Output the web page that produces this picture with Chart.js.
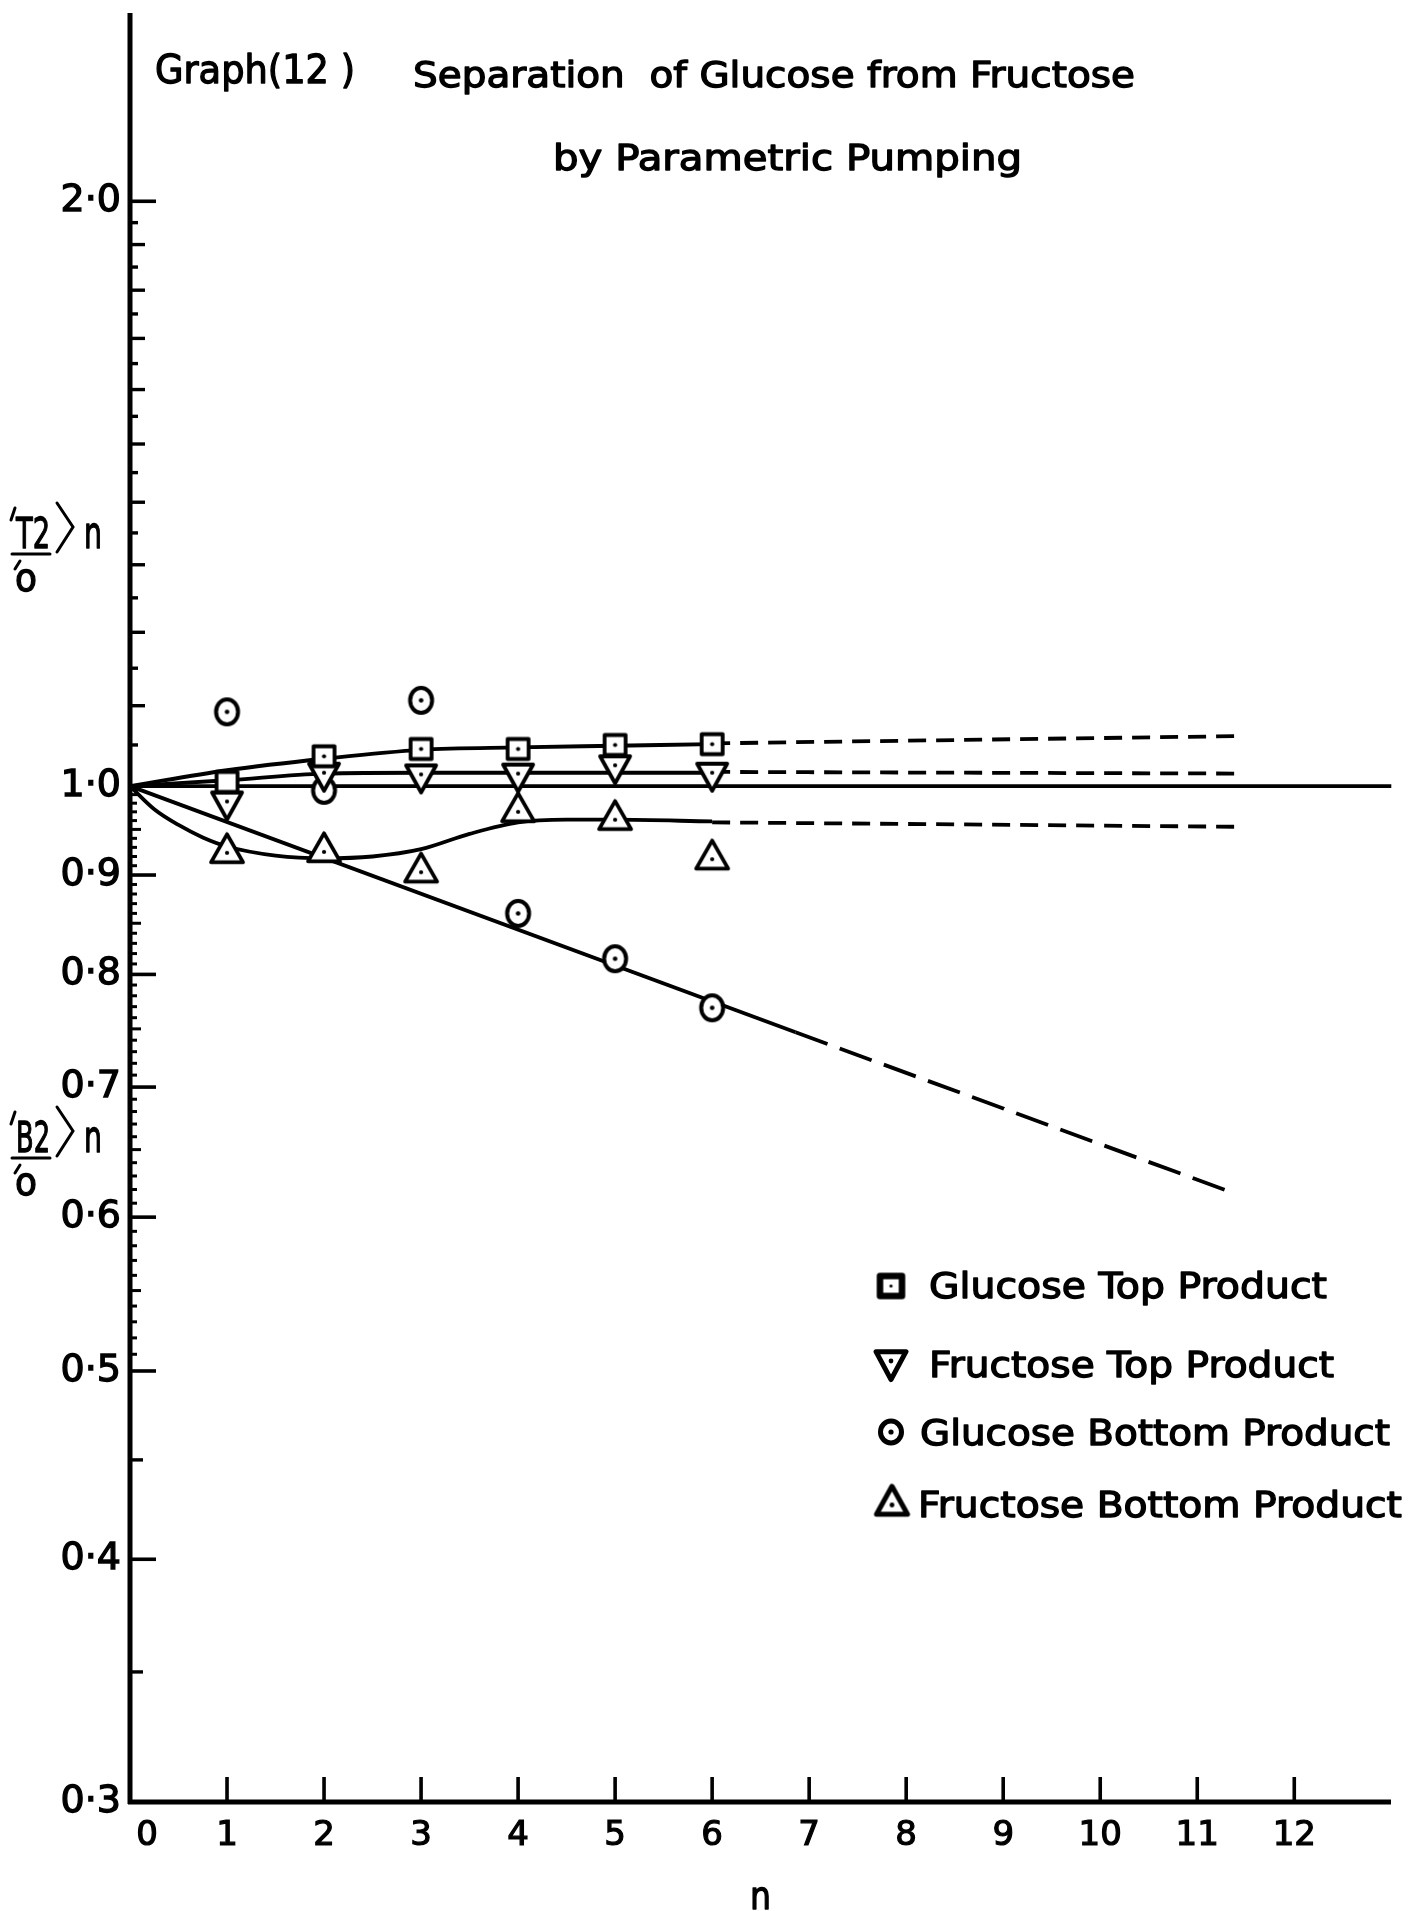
<!DOCTYPE html>
<html>
<head>
<meta charset="utf-8">
<script src="https://cdn.jsdelivr.net/npm/chart.js@4.4.1/dist/chart.umd.min.js"></script>
<style>
  html, body { margin: 0; padding: 0; background: #fff; }
  #wrap { position: relative; width: 1414px; height: 1911px; }
</style>
</head>
<body>
<div id="wrap"><canvas id="c" width="1414" height="1911"></canvas></div>
<script>
// ---- cycle number n of the measured points ----
const cycles = [1, 2, 3, 4, 5, 6];

// ---- measured concentration ratios <C>n / C0 ----
const glucoseTop     = [1.005, 1.036, 1.045, 1.045, 1.050, 1.051];
const fructoseTop    = [0.982, 1.016, 1.014, 1.015, 1.025, 1.016];
const glucoseBottom  = [1.092, 0.995, 1.107, 0.860, 0.815, 0.769];
const fructoseBottom = [0.924, 0.925, 0.903, 0.970, 0.961, 0.917];

// ---- hand-fitted curves (solid) ----
const glucoseTopFitN     = [0, 1, 2, 3, 4, 5, 6];
const glucoseTopFit      = [1.0, 1.019, 1.033, 1.044, 1.047, 1.049, 1.051];
const fructoseTopFitN    = [0, 1, 2, 3, 4, 5, 6];
const fructoseTopFit     = [1.0, 1.007, 1.015, 1.016, 1.016, 1.016, 1.016];
const glucoseBottomFitN  = [0, 6.86];
const glucoseBottomFit   = [1.0, 0.747];
const fructoseBottomFitN = [0, 0.25, 0.5, 0.75, 1, 1.5, 2, 2.5, 3, 3.5, 4, 4.5, 5, 6];
const fructoseBottomFit  = [1.0, 0.973, 0.955, 0.941, 0.931, 0.921, 0.918, 0.920, 0.928, 0.945, 0.958, 0.961, 0.961, 0.959];

// ---- extrapolations (dashed) ----
const glucoseTopExtN     = [6, 11.4];
const glucoseTopExt      = [1.052, 1.061];
const fructoseTopExtN    = [6, 11.4];
const fructoseTopExt     = [1.017, 1.015];
const glucoseBottomExtN  = [6.86, 11.35];
const glucoseBottomExt   = [0.747, 0.618];
const fructoseBottomExtN = [6, 11.4];
const fructoseBottomExt  = [0.958, 0.953];

// ---- reference line at unity ----
const unityN = [0, 13];
const unity  = [1.0, 1.0];

// ---- axes ----
const xTickValues = [0, 1, 2, 3, 4, 5, 6, 7, 8, 9, 10, 11, 12];
const xTickLabels = ['\u20030', '1', '2', '3', '4', '5', '6', '7', '8', '9', '10', '11', '12'];
const yTickValues = [0.3, 0.4, 0.5, 0.6, 0.7, 0.8, 0.9, 1.0, 2.0];
const yTickLabels = ['0·3', '0·4', '0·5', '0·6', '0·7', '0·8', '0·9', '1·0', '2·0'];

const seriesNames = ['Glucose Top Product', 'Fructose Top Product', 'Glucose Bottom Product', 'Fructose Bottom Product'];

const FONT = '"DejaVu Sans", sans-serif';
const INK = '#000';

const pairs = (xs, ys) => xs.map((x, i) => ({ x, y: ys[i] }));

// marker images: outline shape with a centre dot, centred on the data point
function markerCanvas(shape, w, h, lw, dot, hollow) {
  const size = Math.ceil(Math.max(w, h) * 1.45 + lw * 2 + 4);
  const c = document.createElement('canvas');
  c.width = size; c.height = size;
  const g = c.getContext('2d');
  const cx = size / 2, cy = size / 2;
  g.lineWidth = lw; g.strokeStyle = INK; g.fillStyle = '#fff'; g.lineJoin = 'round';
  g.beginPath();
  if (shape === 'square') g.rect(cx - w / 2, cy - h / 2, w, h);
  else if (shape === 'circle') g.ellipse(cx, cy, w / 2, h / 2, 0, 0, Math.PI * 2);
  else if (shape === 'up') { g.moveTo(cx, cy - h * 2 / 3); g.lineTo(cx + w / 2, cy + h / 3); g.lineTo(cx - w / 2, cy + h / 3); g.closePath(); }
  else if (shape === 'down') { g.moveTo(cx, cy + h * 2 / 3); g.lineTo(cx + w / 2, cy - h / 3); g.lineTo(cx - w / 2, cy - h / 3); g.closePath(); }
  g.fill(); g.stroke();
  if (!hollow) { g.fillStyle = INK; g.beginPath(); g.arc(cx, cy, dot, 0, Math.PI * 2); g.fill(); }
  return c;
}

const mk = {
  square:      markerCanvas('square', 21, 20, 3.8, 2.1, false),
  squareOpen:  markerCanvas('square', 21, 20, 3.8, 2.1, true),
  down:        markerCanvas('down', 30, 27, 3.8, 2.1, false),
  circle:      markerCanvas('circle', 22, 25, 4, 2.3, false),
  circleOpen:  markerCanvas('circle', 22, 25, 4, 2.3, true),
  up:          markerCanvas('up', 32, 28, 3.8, 2.1, false)
};
const legendMk = [
  markerCanvas('square', 22, 20, 6.5, 1.6, false),
  markerCanvas('down', 30, 28, 5, 2.4, false),
  markerCanvas('circle', 21, 22, 5, 2.6, false),
  markerCanvas('up', 31, 28, 5, 2.4, false)
];

function lineSet(xs, ys, dash) {
  return {
    data: pairs(xs, ys), borderColor: INK, borderWidth: 3.8, borderDash: dash || [],
    pointRadius: 0, fill: false, cubicInterpolationMode: 'monotone', order: 1, clip: false
  };
}
function pointSet(ys, styles) {
  return {
    data: pairs(cycles, ys), showLine: false, pointStyle: styles, pointRadius: 12,
    borderColor: INK, backgroundColor: '#fff', order: 0, clip: false
  };
}

// axes, inward tick marks, titles, legend and axis captions
const decorPlugin = {
  id: 'decor',
  beforeDatasetsDraw(chart) {
    const { ctx, chartArea: a, scales: { x, y } } = chart;
    ctx.save();
    ctx.strokeStyle = INK; ctx.lineCap = 'butt';
    // axis lines
    ctx.lineWidth = 5;
    ctx.beginPath();
    ctx.moveTo(a.left, a.top); ctx.lineTo(a.left, a.bottom + 2);
    ctx.moveTo(a.left - 2, a.bottom); ctx.lineTo(a.right - 10, a.bottom);
    ctx.stroke();
    // x ticks, pointing up
    ctx.lineWidth = 3.6;
    ctx.beginPath();
    xTickValues.filter(v => v > 0).forEach(v => {
      const px = x.getPixelForValue(v);
      ctx.moveTo(px, a.bottom); ctx.lineTo(px, a.bottom - 25);
    });
    ctx.stroke();
    // y ticks, pointing right
    const yTick = (v, len, lw) => {
      const py = y.getPixelForValue(v);
      ctx.lineWidth = lw;
      ctx.beginPath(); ctx.moveTo(a.left, py); ctx.lineTo(a.left + len, py); ctx.stroke();
    };
    yTickValues.forEach(v => { if (v !== 0.3 && v !== 1.0) yTick(v, 26, 3.6); });
    for (let k = 1; k < 20; k++) { const v = 1 + k * 0.05; yTick(v, k % 2 === 0 ? 15 : 8, 3.4); }
    for (let k = 51; k < 100; k++) {
      if (k % 10 === 0) continue;
      yTick(k / 100, k % 5 === 0 ? 11 : 7, 3);
    }
    yTick(0.35, 13, 3.4); yTick(0.45, 13, 3.4);
    ctx.restore();
  },
  afterDraw(chart) {
    const { ctx } = chart;
    ctx.save();
    ctx.fillStyle = INK; ctx.strokeStyle = INK;
    const fitText = (text, x0, x1, base, size, weight) => {
      ctx.save();
      ctx.font = size + 'px ' + FONT;
      ctx.textAlign = 'left'; ctx.textBaseline = 'alphabetic';
      const w = ctx.measureText(text).width;
      ctx.translate(x0, base); ctx.scale((x1 - x0) / w, 1);
      ctx.lineWidth = weight === undefined ? 1.3 : weight; ctx.lineJoin = 'round';
      ctx.fillText(text, 0, 0);
      if (ctx.lineWidth > 0) ctx.strokeText(text, 0, 0);
      ctx.restore();
    };
    // titles
    fitText('Graph(12 )', 155, 355, 83, 39);
    fitText('Separation  of Glucose from Fructose', 413, 1135, 87, 35);
    fitText('by Parametric Pumping', 553, 1022, 170, 35);

    // legend
    const legendRows = [
      { mx: 891, my: 1286, x0: 929, x1: 1327, base: 1298 },
      { mx: 891, my: 1361, x0: 929, x1: 1334, base: 1377 },
      { mx: 891, my: 1432, x0: 920, x1: 1390, base: 1445 },
      { mx: 892, my: 1505, x0: 918, x1: 1402, base: 1517 }
    ];
    legendRows.forEach((r, i) => {
      const im = legendMk[i];
      ctx.drawImage(im, r.mx - im.width / 2, r.my - im.height / 2);
      fitText(seriesNames[i], r.x0, r.x1, r.base, 35);
    });

    // x axis caption
    fitText('n', 750, 771, 1909, 38);

    // y axis captions: <T2>n over C0 and <B2>n over C0
    const ratioLabel = (sub, base) => {
      ctx.lineWidth = 3; ctx.lineJoin = 'miter'; ctx.lineCap = 'round';
      // clipped opening bracket at the page edge
      ctx.beginPath(); ctx.moveTo(15, base - 40); ctx.lineTo(11, base - 28); ctx.stroke();
      fitText(sub, 16, 50, base, 42);
      ctx.lineWidth = 3;
      ctx.beginPath();
      ctx.moveTo(57, base - 45); ctx.lineTo(73, base - 21); ctx.lineTo(57, base + 4);
      ctx.stroke();
      fitText('n', 84, 102, base, 44);
      ctx.lineWidth = 3;
      ctx.beginPath(); ctx.moveTo(12, base + 6); ctx.lineTo(50, base + 6); ctx.stroke();
      fitText('o', 15, 37, base + 43, 38);
      ctx.lineWidth = 3;
      ctx.beginPath(); ctx.moveTo(20, base + 13); ctx.lineTo(15, base + 21); ctx.stroke();
    };
    ratioLabel('T2', 548);
    ratioLabel('B2', 1152);
    ctx.restore();
  }
};

new Chart(document.getElementById('c'), {
  type: 'line',
  data: {
    datasets: [
      pointSet(glucoseTop, cycles.map((n, i) => i === 0 ? mk.squareOpen : mk.square)),
      pointSet(fructoseTop, cycles.map(() => mk.down)),
      pointSet(glucoseBottom, cycles.map((n, i) => i === 1 ? mk.circleOpen : mk.circle)),
      pointSet(fructoseBottom, cycles.map(() => mk.up)),
      lineSet(unityN, unity),
      lineSet(glucoseTopFitN, glucoseTopFit),
      lineSet(glucoseTopExtN, glucoseTopExt, [18, 10]),
      lineSet(fructoseTopFitN, fructoseTopFit),
      lineSet(fructoseTopExtN, fructoseTopExt, [18, 10]),
      lineSet(glucoseBottomFitN, glucoseBottomFit),
      lineSet(glucoseBottomExtN, glucoseBottomExt, [34, 13]),
      lineSet(fructoseBottomFitN, fructoseBottomFit),
      lineSet(fructoseBottomExtN, fructoseBottomExt, [18, 10])
    ]
  },
  options: {
    responsive: false,
    animation: false,
    devicePixelRatio: 1,
    layout: { padding: { left: 0, right: 12, top: 13, bottom: 0 } },
    plugins: { legend: { display: false }, tooltip: { enabled: false }, title: { display: false } },
    scales: {
      x: {
        type: 'linear', min: 0, max: 13.1,
        grid: { display: false, drawTicks: false }, border: { display: false },
        afterBuildTicks: s => { s.ticks = xTickValues.map(v => ({ value: v })); },
        afterFit: s => { s.height = 109; s.paddingLeft = 0; s.paddingRight = 0; },
        ticks: { color: INK, font: { family: FONT, size: 34 }, padding: 14, maxRotation: 0, autoSkip: false,
                 textStrokeColor: INK, textStrokeWidth: 1.2,
                 callback: (v, i) => xTickLabels[i] }
      },
      y: {
        type: 'logarithmic', min: 0.3, max: 2.5, bounds: 'data',
        grid: { display: false, drawTicks: false }, border: { display: false },
        afterBuildTicks: s => { s.ticks = yTickValues.map(v => ({ value: v })); },
        afterFit: s => { s.width = 130; s.paddingTop = 0; s.paddingBottom = 0; },
        ticks: { color: INK, font: { family: FONT, size: 38 }, padding: 9, autoSkip: false,
                 textStrokeColor: INK, textStrokeWidth: 1.3,
                 callback: (v, i) => yTickLabels[i] }
      }
    }
  },
  plugins: [decorPlugin]
});
</script>
</body>
</html>
